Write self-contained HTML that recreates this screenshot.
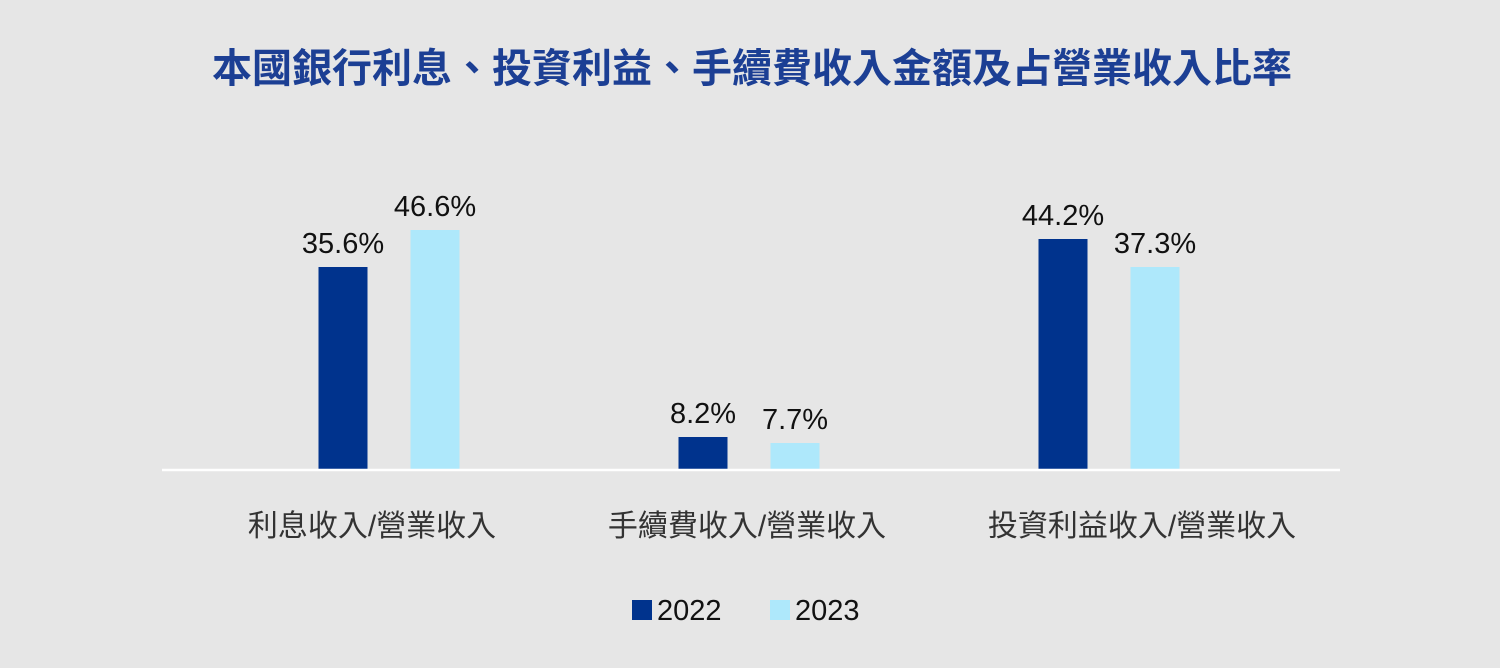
<!DOCTYPE html>
<html><head><meta charset="utf-8">
<style>
html,body{margin:0;padding:0;}
body{width:1500px;height:668px;background:#e6e6e6;overflow:hidden;font-family:"Liberation Sans","Noto Sans CJK TC",sans-serif;}
svg{display:block}
</style></head>
<body>
<svg id="chart" width="1500" height="668" xmlns="http://www.w3.org/2000/svg">
<text x="752" y="82" text-anchor="middle" font-size="40" font-weight="bold" fill="#1c3f94" font-family="Liberation Sans, Noto Sans CJK TC, sans-serif">本國銀行利息、投資利益、手續費收入金額及占營業收入比率</text>
<g id="bars"></g>
<line x1="162" y1="470" x2="1340" y2="470" stroke="#ffffff" stroke-width="2.5"/>
<g>
<rect x="632" y="600" width="20" height="20" fill="#00338d"/>
<text x="657" y="620" font-size="29" fill="#111">2022</text>
<rect x="770" y="600" width="20" height="20" fill="#aee8fb"/>
<text x="795" y="620" font-size="29" fill="#111">2023</text>
</g>
</svg>
<script>
const categories = ["利息收入/營業收入", "手續費收入/營業收入", "投資利益收入/營業收入"];
const amounts2022 = [203, 33, 231];
const amounts2023 = [240, 27, 203];
const ratioLabels2022 = ["35.6%", "8.2%", "44.2%"];
const ratioLabels2023 = ["46.6%", "7.7%", "37.3%"];

const NS = "http://www.w3.org/2000/svg";
const g = document.getElementById("bars");
const baseY = 470, yScaleMax = 250, plotH = 250;
const groupStart = 389, groupStep = 360, barW = 49, offset = 46;
const labelShift = [-17, -2, 33];
function y(v){ return baseY - v / yScaleMax * plotH; }
function xc(i){ return groupStart + i * groupStep; }
function mk(tag, attrs){ const e = document.createElementNS(NS, tag); for (const k in attrs) e.setAttribute(k, attrs[k]); return e; }

categories.forEach((c, i) => {
  [[amounts2022, ratioLabels2022, "#00338d", -offset, "2022"], [amounts2023, ratioLabels2023, "#aee8fb", offset, "2023"]].forEach(([vals, labs, col, dx, yr]) => {
    const cx = xc(i) + dx;
    const r = mk("rect", {x: cx - barW/2, y: y(vals[i]), width: barW, height: baseY - y(vals[i]), fill: col});
    
    
    g.appendChild(r);
    const t = mk("text", {x: cx, y: y(vals[i]) - 14, "text-anchor": "middle", "font-size": "29", fill: "#111"});
    t.textContent = labs[i];
    
    
    g.appendChild(t);
  });
  const lt = mk("text", {x: xc(i) + labelShift[i], y: 536, "text-anchor": "middle", "font-size": "30", fill: "#333"});
  lt.textContent = c;
  
  
  g.appendChild(lt);
});
</script>
</body></html>
